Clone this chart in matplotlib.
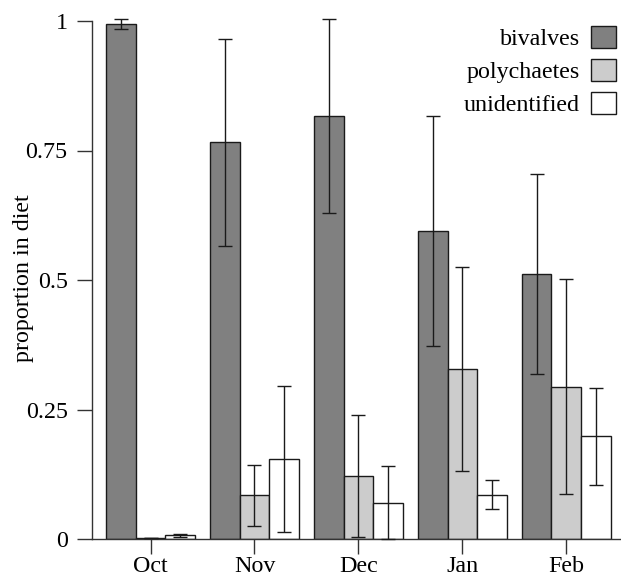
import numpy as np
import matplotlib
matplotlib.use('Agg')
import matplotlib.pyplot as plt

plt.rcParams['font.family'] = ['Liberation Serif', 'DejaVu Serif']

months = ['Oct', 'Nov', 'Dec', 'Jan', 'Feb']
series = ['bivalves', 'polychaetes', 'unidentified']
colors = ['#808080', '#cccccc', '#ffffff']

bivalves = [0.994, 0.766, 0.817, 0.594, 0.512]
bivalves_err = [0.010, 0.200, 0.187, 0.222, 0.193]
polychaetes = [0.002, 0.084, 0.122, 0.329, 0.294]
polychaetes_err = [0.0, 0.058, 0.118, 0.197, 0.207]
unidentified = [0.007, 0.154, 0.070, 0.085, 0.198]
unidentified_err = [0.003, 0.141, 0.070, 0.028, 0.093]

values = [bivalves, polychaetes, unidentified]
errors = [bivalves_err, polychaetes_err, unidentified_err]

fig = plt.figure(figsize=(6.21, 5.8), dpi=100)
ax = fig.add_axes([92 / 621, 41 / 580, 529 / 621, 518 / 580])

group_start = np.arange(len(months)) * 3.5
edge = '#1a1a1a'
handles = []
for k in range(3):
    x = group_start + k + 0.5
    b = ax.bar(x, values[k], width=1.0, color=colors[k], edgecolor=edge,
               linewidth=1.0, label=series[k], zorder=2)
    handles.append(b)
    ax.errorbar(x, values[k], yerr=errors[k], fmt='none', ecolor=edge,
                elinewidth=1.0, capsize=5.2, capthick=1.0, clip_on=False, zorder=3)

ax.set_xlim(-0.47, 17.34)
ax.set_ylim(0, 1)
ax.set_xticks(group_start + 1.5)
ax.set_xticklabels(months)
ax.set_yticks([0, 0.25, 0.5, 0.75, 1])
ax.set_yticklabels(['0', '0.25', '0.5', '0.75', '1'])
ax.set_ylabel('proportion in diet', fontsize=17.3)
ax.yaxis.label.set_va('center')
ax.yaxis.set_label_coords(-0.130, 0.504)

for s in ['top', 'right']:
    ax.spines[s].set_visible(False)
for s in ['left', 'bottom']:
    ax.spines[s].set_color('#333333')
    ax.spines[s].set_linewidth(1.0)
ax.tick_params(axis='both', length=11, width=1.0, color='#333333',
               labelsize=17.3)
ax.tick_params(axis='y', pad=6.5)
ax.tick_params(axis='x', pad=1.5)

ax.legend(handles=handles, loc='upper right', bbox_to_anchor=(1.0, 1.0),
          frameon=False, markerfirst=False, fontsize=17.3,
          handlelength=1.05, handleheight=1.05, handletextpad=0.45,
          labelspacing=0.36, borderaxespad=0.2, borderpad=0.0)

fig.savefig('out.png', dpi=100)
